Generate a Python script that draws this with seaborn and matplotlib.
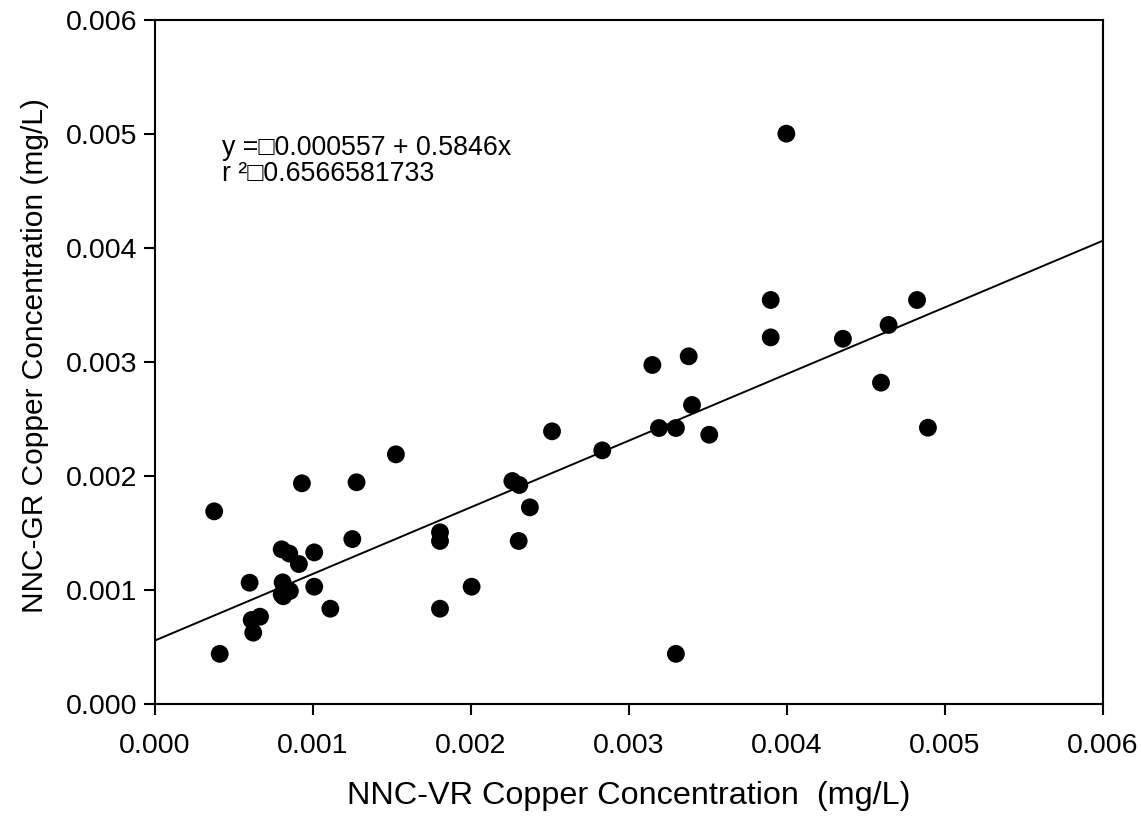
import numpy as np
import matplotlib
matplotlib.use("Agg")
import matplotlib.pyplot as plt
import seaborn as sns

# NNC-VR vs NNC-GR copper concentration (mg/L)
vr_copper = [0.000375, 0.00041, 0.000599, 0.000612, 0.000622, 0.000665,
             0.000802, 0.00085, 0.000911, 0.000808, 0.000854, 0.000802,
             0.000812, 0.001008, 0.001008, 0.00111, 0.00093, 0.001276,
             0.001249, 0.001525, 0.001804, 0.001804, 0.001804, 0.002004,
             0.002262, 0.002306, 0.002373, 0.002302, 0.002513, 0.002831,
             0.003148, 0.003378, 0.003399, 0.00319, 0.003297, 0.003508,
             0.003297, 0.003996, 0.003897, 0.003897, 0.004354, 0.004643,
             0.004823, 0.004595, 0.004892]
gr_copper = [0.00169, 0.00044, 0.001064, 0.000737, 0.000626, 0.000766,
             0.001357, 0.00132, 0.001228, 0.001067, 0.000991, 0.000962,
             0.000945, 0.00133, 0.001029, 0.000836, 0.001936, 0.001945,
             0.001447, 0.00219, 0.001506, 0.00143, 0.000836, 0.001029,
             0.001956, 0.001921, 0.001725, 0.00143, 0.002392, 0.002225,
             0.002974, 0.00305, 0.002623, 0.002421, 0.002421, 0.002362,
             0.00044, 0.005003, 0.003544, 0.003216, 0.003204, 0.003325,
             0.003544, 0.002819, 0.002424]

# regression reported on the chart
intercept = 0.000557
slope = 0.5846
r_squared_text = "0.6566581733"

x_ticks = [0.000, 0.001, 0.002, 0.003, 0.004, 0.005, 0.006]
y_ticks = [0.000, 0.001, 0.002, 0.003, 0.004, 0.005, 0.006]

sns.set_style("ticks")
plt.rcParams['font.family'] = ['Liberation Sans', 'DejaVu Sans']
plt.rcParams['text.color'] = 'black'
plt.rcParams['axes.labelcolor'] = 'black'

fig = plt.figure(figsize=(11.41, 8.17), dpi=100)
ax = fig.add_axes([0.1358, 0.1383, 0.8309, 0.8372])

sns.scatterplot(x=vr_copper, y=gr_copper, ax=ax, color="black", s=165,
                edgecolor="none", zorder=3)

line_x = np.array([0.0, 0.006])
ax.plot(line_x, intercept + slope * line_x, color="black", lw=1.4, zorder=2)

ax.set_xlim(0, 0.006)
ax.set_ylim(0, 0.006)
ax.set_xticks(x_ticks)
ax.set_yticks(y_ticks)
ax.set_xticklabels([f"{v:.3f}" for v in x_ticks])
ax.set_yticklabels([f"{v:.3f}" for v in y_ticks])
ax.tick_params(direction="out", length=8, width=1.5, labelsize=20.5,
               colors="black")
ax.tick_params(axis="x", pad=13)
ax.tick_params(axis="y", pad=5)
for sp in ax.spines.values():
    sp.set_visible(True)
    sp.set_linewidth(1.5)
    sp.set_color("black")

ax.set_xlabel("NNC-VR Copper Concentration  (mg/L)", fontsize=23.3, labelpad=16)
ax.set_ylabel("NNC-GR Copper Concentration (mg/L)", fontsize=21.5)
ax.yaxis.set_label_coords(-0.112, 0.51)

ax.text(0.000424, 0.00499,
        f"y =\u25a1{intercept:.6f} + {slope}x\nr \u00b2\u25a1{r_squared_text}",
        fontsize=19.3, va="top", ha="left", linespacing=1.0)

fig.savefig("out.png", dpi=100)
